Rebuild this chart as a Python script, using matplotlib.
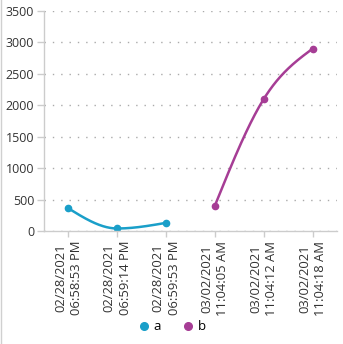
import numpy as np
import matplotlib
matplotlib.use("Agg")
import matplotlib.pyplot as plt
from matplotlib.lines import Line2D

categories = ["02/28/2021\n06:58:53 PM", "02/28/2021\n06:59:14 PM", "02/28/2021\n06:59:53 PM",
              "03/02/2021\n11:04:05 AM", "03/02/2021\n11:04:12 AM", "03/02/2021\n11:04:18 AM"]
a_idx = [0, 1, 2]
a_vals = [360, 40, 130]
b_idx = [3, 4, 5]
b_vals = [405, 2100, 2900]
yticks = [0, 500, 1000, 1500, 2000, 2500, 3000, 3500]

col_a = "#1a9fc9"
col_b = "#a63d95"

plt.rcParams['font.family'] = ['Open Sans', 'DejaVu Sans']

def monotone_x(x, y, n=100):
    """d3 curveMonotoneX style rendering between given points."""
    x = np.asarray(x, float); y = np.asarray(y, float)
    k = len(x)
    h = np.diff(x); s = np.diff(y) / h
    t = np.zeros(k)
    for i in range(1, k - 1):
        p = (s[i - 1] * h[i] + s[i] * h[i - 1]) / (h[i - 1] + h[i])
        t[i] = (np.sign(s[i - 1]) + np.sign(s[i])) * min(abs(s[i - 1]), abs(s[i]), 0.5 * abs(p))
    if k > 2:
        t[0] = (3 * s[0] - t[1]) / 2
        t[-1] = (3 * s[-1] - t[-2]) / 2
    else:
        t[:] = s[0]
    xs, ys = [], []
    u = np.linspace(0, 1, n)
    for i in range(k - 1):
        dx = h[i] / 3
        P = [(x[i], y[i]), (x[i] + dx, y[i] + dx * t[i]), (x[i + 1] - dx, y[i + 1] - dx * t[i + 1]), (x[i + 1], y[i + 1])]
        bx = ((1 - u) ** 3 * P[0][0] + 3 * (1 - u) ** 2 * u * P[1][0] + 3 * (1 - u) * u ** 2 * P[2][0] + u ** 3 * P[3][0])
        by = ((1 - u) ** 3 * P[0][1] + 3 * (1 - u) ** 2 * u * P[1][1] + 3 * (1 - u) * u ** 2 * P[2][1] + u ** 3 * P[3][1])
        xs.append(bx); ys.append(by)
    return np.concatenate(xs), np.concatenate(ys)

fig = plt.figure(figsize=(3.43, 3.44), dpi=100)
ax = fig.add_axes([44 / 343, 1 - 231 / 344, (337 - 44) / 343, 220 / 344])

for idx, vals, col in [(a_idx, a_vals, col_a), (b_idx, b_vals, col_b)]:
    sx, sy = monotone_x(idx, vals)
    ax.plot(sx, sy, color=col, lw=1.8, solid_capstyle='round')
    ax.plot(idx, vals, 'o', color=col, ms=4.5)

ax.set_xlim(-0.5, 5.5)
ax.set_ylim(0, 3500)
ax.set_yticks(yticks)
ax.set_xticks(range(len(categories)))
ax.set_xticklabels(categories, rotation=90, fontsize=9.4, color="#333333", linespacing=1.3)
ax.tick_params(axis='y', labelsize=9, labelcolor="#333333", length=5, color="#cccccc", width=1, pad=2)
ax.tick_params(axis='x', length=4, color="#cccccc", width=1, pad=3)
for s in ['top', 'right']:
    ax.spines[s].set_visible(False)
for s in ['left', 'bottom']:
    ax.spines[s].set_color("#cccccc")
    ax.spines[s].set_linewidth(1)
ax.grid(axis='y', linestyle=(0, (1, 5)), color="#aaaaaa", lw=1)
ax.set_axisbelow(True)

handles = [Line2D([], [], marker='o', ls='', color=col_a, ms=5.5, label='a'),
           Line2D([], [], marker='o', ls='', color=col_b, ms=5.5, label='b')]
fig.legend(handles=handles, loc='center', bbox_to_anchor=(0.5, 1 - 327 / 344), ncol=2, frameon=False,
           fontsize=9.5, handletextpad=0.2, columnspacing=1.6, handlelength=1)

fig.add_artist(Line2D([0.5 / 343, 0.5 / 343], [0, 1], transform=fig.transFigure, color="#d0d0d0", lw=1))

fig.savefig("out.png", dpi=100)
